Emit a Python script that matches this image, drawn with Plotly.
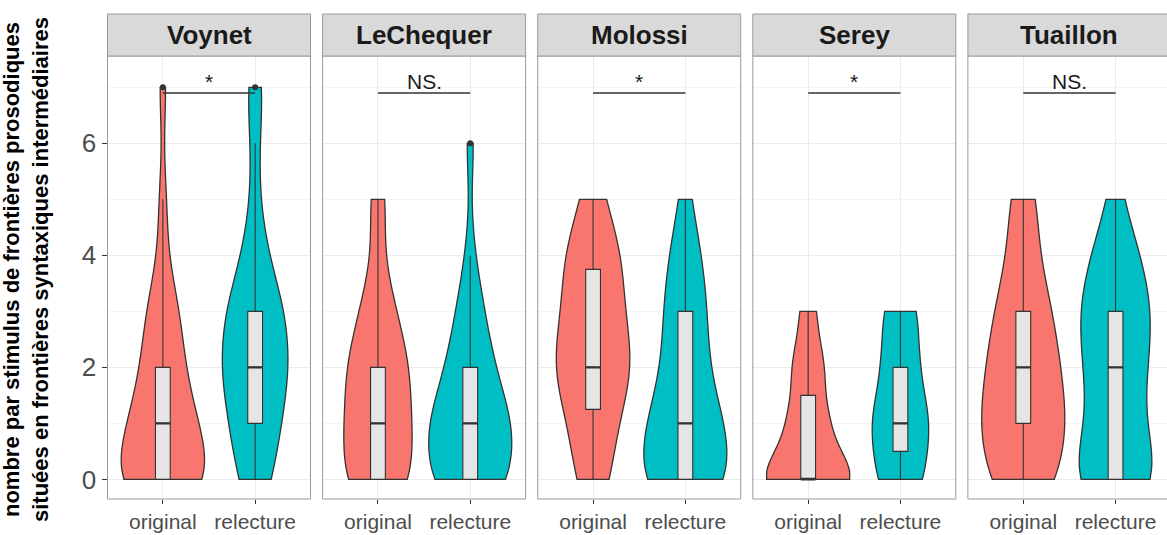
import numpy as np
import plotly.graph_objects as go

# ---------------- data (counts of stimuli per value) ----------------
speakers = ["Voynet", "LeChequer", "Molossi", "Serey", "Tuaillon"]
conditions = ["original", "relecture"]
values = [0, 1, 2, 3, 4, 5, 6, 7]

voynet_original = [12, 8, 5, 4, 1, 1, 0, 1]
voynet_relecture = [4, 6, 8, 7, 3, 1, 1, 2]
lechequer_original = [8, 7, 7, 4, 1, 2, 0, 0]
lechequer_relecture = [9, 9, 5, 3, 1, 0, 1, 0]
molossi_original = [3, 4, 7, 5, 5, 2, 0, 0]
molossi_relecture = [9, 7, 4, 4, 3, 1, 0, 0]
serey_original = [12, 5, 4, 2, 0, 0, 0, 0]
serey_relecture = [4, 5, 3, 3, 0, 0, 0, 0]
tuaillon_original = [5, 6, 5, 4, 2, 2, 0, 0]
tuaillon_relecture = [8, 4, 5, 6, 4, 1, 0, 0]

significance = ["*", "NS.", "*", "*", "NS."]
bracket_y = 6.9

y_title = ("nombre par stimulus de frontières prosodiques<br>"
           "situées en frontières syntaxiques intermédiaires")

counts = {
    "Voynet": [voynet_original, voynet_relecture],
    "LeChequer": [lechequer_original, lechequer_relecture],
    "Molossi": [molossi_original, molossi_relecture],
    "Serey": [serey_original, serey_relecture],
    "Tuaillon": [tuaillon_original, tuaillon_relecture],
}

# ---------------- style ----------------
colors = ["#F8766D", "#00BFC4"]
FONT = "Liberation Sans, Arial, sans-serif"
W, H = 1167, 535
panel_w = 203
panel_step = 215.1
first_left = 107.5
panel_top, panel_bottom, strip_top = 56, 499, 14
y_range = [-0.35, 7.56]
border_col = "#9a9a9a"
outline = "#333333"


def bw_nrd0(x):
    sd = np.std(x, ddof=1)
    q75, q25 = np.percentile(x, [75, 25])
    lo = min(sd, (q75 - q25) / 1.34)
    if lo == 0:
        lo = sd if sd > 0 else 1.0
    return 0.9 * lo * len(x) ** (-0.2)


def kde_max(x, bw):
    grid = np.linspace(x.min(), x.max(), 512)
    z = (grid[:, None] - x[None, :]) / bw
    dens = np.exp(-0.5 * z ** 2).sum(axis=1) / (len(x) * bw * np.sqrt(2 * np.pi))
    return dens.max()


fig = go.Figure()
shapes = []
annotations = []
layout_axes = {}

for i, sp in enumerate(speakers):
    k = "" if i == 0 else str(i + 1)
    xa, ya = "x" + k, "y" + k
    L = first_left + panel_step * i
    R = L + panel_w
    x_dom = [L / W, min(R, W) / W]
    x_rng = [0.4, 0.4 + (min(R, W) - L) / panel_w * 2.2]
    y_dom = [1 - panel_bottom / H, 1 - panel_top / H]

    datasets = [np.repeat(values, c).astype(float) for c in counts[sp]]
    bws = [bw_nrd0(d) for d in datasets]
    maxes = [kde_max(d, b) for d, b in zip(datasets, bws)]
    panel_max = max(maxes)  # ggplot scale = "area" within a panel

    for j, cond in enumerate(conditions):
        data = datasets[j]
        pos = j + 1
        fig.add_trace(go.Violin(
            x0=pos, y=data, xaxis=xa, yaxis=ya,
            width=0.9 * maxes[j] / panel_max,
            scalegroup="%s_%s" % (sp, cond), scalemode="width", spanmode="hard",
            bandwidth=bws[j], points=False,
            fillcolor=colors[j], opacity=1,
            line=dict(color=outline, width=1.3),
            box=dict(visible=False), meanline=dict(visible=False),
            showlegend=False, hoverinfo="skip"))

        q1, med, q3 = np.percentile(data, [25, 50, 75])
        iqr = q3 - q1
        lo_f, hi_f = q1 - 1.5 * iqr, q3 + 1.5 * iqr
        lo_w = data[data >= lo_f].min()
        hi_w = data[data <= hi_f].max()
        outliers = np.unique(data[(data < lo_f) | (data > hi_f)])

        fig.add_trace(go.Box(
            x=[pos], q1=[q1], median=[med], q3=[q3],
            lowerfence=[lo_w], upperfence=[hi_w],
            xaxis=xa, yaxis=ya, width=0.16, whiskerwidth=0,
            fillcolor="#E5E5E5", line=dict(color=outline, width=1.1),
            boxpoints=False, showlegend=False, hoverinfo="skip"))
        fig.add_trace(go.Scatter(
            x=[pos - 0.08, pos + 0.08], y=[med, med], mode="lines",
            line=dict(color=outline, width=2.2), xaxis=xa, yaxis=ya,
            showlegend=False, hoverinfo="skip"))
        if len(outliers):
            fig.add_trace(go.Scatter(
                x=[pos] * len(outliers), y=outliers, mode="markers",
                marker=dict(color=outline, size=6), xaxis=xa, yaxis=ya,
                showlegend=False, hoverinfo="skip"))

    layout_axes["xaxis" + k] = dict(
        domain=x_dom, range=x_rng, anchor=ya, tickmode="array",
        tickvals=[1, 2], ticktext=conditions, ticks="outside", ticklen=4,
        tickcolor="#333333", tickfont=dict(size=21, color="#4D4D4D", family=FONT),
        showgrid=True, gridcolor="#EBEBEB", gridwidth=1, zeroline=False,
        showline=False, fixedrange=True)
    layout_axes["yaxis" + k] = dict(
        domain=y_dom, range=y_range, anchor=xa, tick0=0, dtick=2,
        ticks="outside" if i == 0 else "", ticklen=5, tickcolor="#333333",
        showticklabels=(i == 0),
        tickfont=dict(size=26, color="#4D4D4D", family=FONT),
        showgrid=True, gridcolor="#EBEBEB", gridwidth=1, zeroline=False,
        minor=dict(dtick=1, showgrid=True, gridcolor="#F4F4F4", gridwidth=1, ticks=""),
        showline=False, fixedrange=True)

    # panel border
    shapes.append(dict(type="rect", xref="paper", yref="paper",
                       x0=L / W, x1=R / W, y0=1 - panel_bottom / H, y1=1 - panel_top / H,
                       line=dict(color=border_col, width=1), fillcolor="rgba(0,0,0,0)",
                       layer="above"))
    # strip
    shapes.append(dict(type="rect", xref="paper", yref="paper",
                       x0=L / W, x1=R / W, y0=1 - panel_top / H, y1=1 - strip_top / H,
                       line=dict(color=border_col, width=1), fillcolor="#D9D9D9",
                       layer="above"))
    annotations.append(dict(xref=xa, yref="paper", x=1.5, y=1 - (strip_top + panel_top) / 2 / H,
                            text="<b>%s</b>" % sp, showarrow=False,
                            font=dict(size=26, color="#1A1A1A", family=FONT),
                            xanchor="center", yanchor="middle"))
    # significance bracket
    shapes.append(dict(type="line", xref=xa, yref=ya, x0=1, x1=2,
                       y0=bracket_y, y1=bracket_y,
                       line=dict(color="#333333", width=1.5), layer="above"))
    annotations.append(dict(xref=xa, yref=ya, x=1.5, y=bracket_y,
                            text=significance[i], showarrow=False,
                            font=dict(size=21, color="#1A1A1A", family=FONT),
                            xanchor="center", yanchor="bottom", yshift=-2))

annotations.append(dict(xref="paper", yref="paper", x=26 / W, y=1 - 270 / H,
                        text="<b>%s</b>" % y_title, textangle=-90, showarrow=False,
                        font=dict(size=22, color="#000000", family=FONT),
                        xanchor="center", yanchor="middle", align="center"))

fig.update_layout(
    width=W, height=H, margin=dict(l=0, r=0, t=0, b=0),
    paper_bgcolor="white", plot_bgcolor="white",
    font=dict(family=FONT), showlegend=False,
    shapes=shapes, annotations=annotations, **layout_axes)

fig.write_html("out.html", config={"displayModeBar": False},
               post_script="document.body.style.margin='0px';"
                           "document.body.style.overflow='hidden';")
